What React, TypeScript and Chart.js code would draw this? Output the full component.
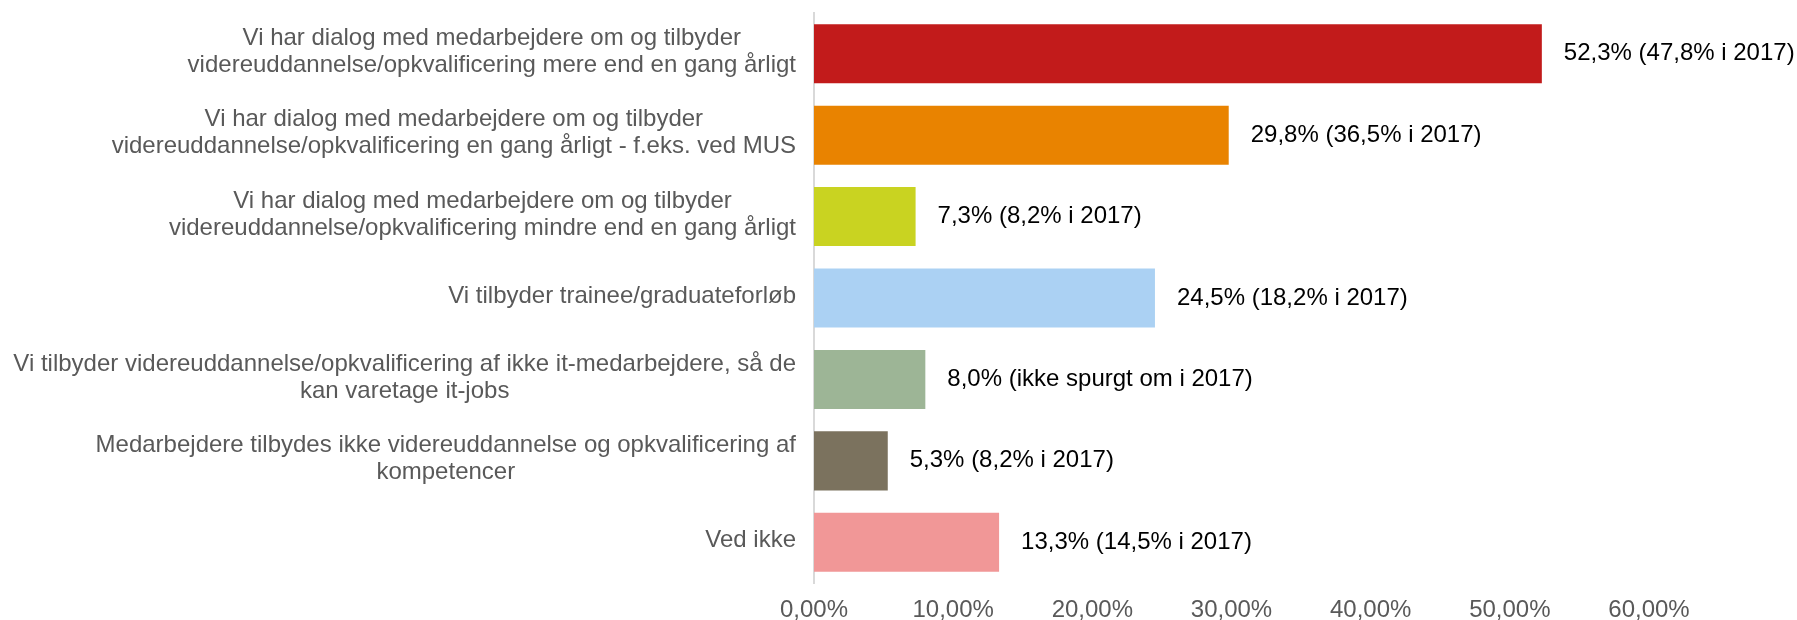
import React, { useEffect, useRef } from "react";
import { Chart, registerables } from "chart.js";

Chart.register(...registerables);

const categories: string[][] = [
  ["Vi har dialog med medarbejdere om og tilbyder", "videreuddannelse/opkvalificering mere end en gang årligt"],
  ["Vi har dialog med medarbejdere om og tilbyder", "videreuddannelse/opkvalificering en gang årligt - f.eks. ved MUS"],
  ["Vi har dialog med medarbejdere om og tilbyder", "videreuddannelse/opkvalificering mindre end en gang årligt"],
  ["Vi tilbyder trainee/graduateforløb"],
  ["Vi tilbyder videreuddannelse/opkvalificering af ikke it-medarbejdere, så de", "kan varetage it-jobs"],
  ["Medarbejdere tilbydes ikke videreuddannelse og opkvalificering af", "kompetencer"],
  ["Ved ikke"],
];

const values2019: number[] = [52.3, 29.8, 7.3, 24.5, 8.0, 5.3, 13.3];
const values2017: (number | null)[] = [47.8, 36.5, 8.2, 18.2, null, 8.2, 14.5];

const barColors: string[] = ["#C21B1B", "#E98300", "#C9D321", "#ABD1F3", "#9DB596", "#7B725E", "#F19797"];

const xTicks: number[] = [0, 10, 20, 30, 40, 50, 60];

const FONT = "'Liberation Sans', Arial, sans-serif";

const fmt = (v: number, d: number) => v.toFixed(d).replace(".", ",");

const dataLabels: string[] = values2019.map((v, i) => {
  const prev = values2017[i];
  return prev === null
    ? `${fmt(v, 1)}% (ikke spurgt om i 2017)`
    : `${fmt(v, 1)}% (${fmt(prev, 1)}% i 2017)`;
});

const labelPlugin = {
  id: "customLabels",
  afterDatasetsDraw(chart: any) {
    const ctx = chart.ctx as CanvasRenderingContext2D;
    const yScale = chart.scales.y;
    const xScale = chart.scales.x;
    const area = chart.chartArea;
    ctx.save();
    ctx.font = `24px ${FONT}`;
    ctx.textBaseline = "middle";
    // category labels
    ctx.fillStyle = "#595959";
    ctx.textAlign = "center";
    const lineH = 27;
    const rightEdge = area.left - 18;
    categories.forEach((lines, i) => {
      const cy = yScale.getPixelForValue(i) - 2;
      const maxW = Math.max(...lines.map((l) => ctx.measureText(l).width));
      const cx = rightEdge - maxW / 2;
      const startY = cy - ((lines.length - 1) * lineH) / 2;
      lines.forEach((l, j) => ctx.fillText(l, cx, startY + j * lineH));
    });
    // data labels
    ctx.fillStyle = "#000000";
    ctx.textAlign = "left";
    values2019.forEach((v, i) => {
      const x = xScale.getPixelForValue(v) + 22;
      const y = yScale.getPixelForValue(i);
      ctx.fillText(dataLabels[i], x, y);
    });
    ctx.restore();
  },
};

export default function App() {
  const ref = useRef<HTMLCanvasElement | null>(null);
  useEffect(() => {
    if (!ref.current) return;
    const chart = new Chart(ref.current, {
      type: "bar",
      data: {
        labels: categories.map((c) => c.join(" ")),
        datasets: [
          {
            data: values2019,
            backgroundColor: barColors,
            borderWidth: 0,
            categoryPercentage: 1,
            barPercentage: 0.725,
          },
        ],
      },
      options: {
        indexAxis: "y",
        animation: false,
        responsive: false,
        layout: { padding: { left: 814, right: 148, top: 13, bottom: 2.2 } },
        plugins: { legend: { display: false }, tooltip: { enabled: false } },
        scales: {
          x: {
            min: 0,
            max: 60,
            afterBuildTicks: (axis: any) => {
              axis.ticks = xTicks.map((v) => ({ value: v }));
            },
            grid: { display: false, drawTicks: false },
            border: { display: false },
            ticks: {
              padding: 13,
              color: "#595959",
              font: { family: FONT, size: 24 },
              callback: (v: any) => `${fmt(Number(v), 2)}%`,
            },
          },
          y: {
            grid: { display: false, drawTicks: false },
            border: { display: true, color: "#D9D9D9", width: 2 },
            ticks: { display: false },
          },
        },
      },
      plugins: [labelPlugin],
    });
    return () => chart.destroy();
  }, []);
  return (
    <div
      style={{
        position: "fixed",
        left: 0,
        top: 0,
        width: 1797,
        height: 620,
        overflow: "hidden",
        background: "#ffffff",
      }}
    >
      <canvas ref={ref} width={1797} height={640} style={{ display: "block" }} />
    </div>
  );
}
